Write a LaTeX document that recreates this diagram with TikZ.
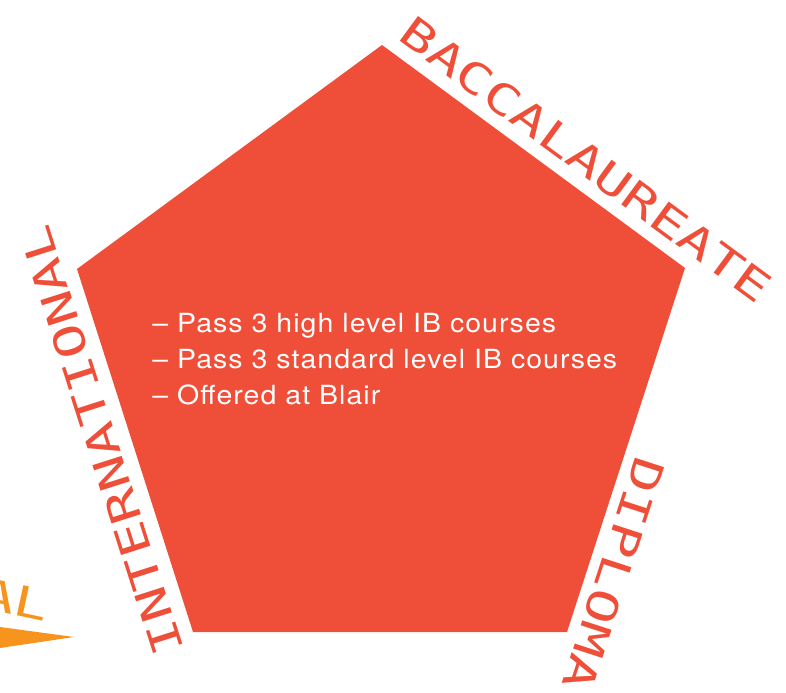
\documentclass[tikz,border=0pt]{standalone}
\usepackage{fontspec}
\newfontfamily\edgefont[FakeStretch=1.36]{DejaVu Sans Mono}
\newfontfamily\bodyfont[FakeStretch=1.08, LetterSpace=4]{TeX Gyre Heros}
\definecolor{ibred}{HTML}{EF4F39}
\definecolor{iborange}{HTML}{F7941D}
\usetikzlibrary{positioning}

\begin{document}
\begin{tikzpicture}[x=0.02cm, y=-0.02cm,
  edge label/.style={text=ibred, font=\edgefont\fontsize{24}{24}\selectfont, inner sep=0pt, anchor=base},
  main text/.style={text=white, font=\bodyfont\fontsize{15}{20.6}\selectfont, align=left, inner sep=0pt}]

\useasboundingbox (0,0) rectangle (786,692);
\clip (0,0) rectangle (786,692);

% pentagon corners
\coordinate (top) at (382,45);
\coordinate (right) at (685,268);
\coordinate (bright) at (567,632);
\coordinate (bleft) at (193,632);
\coordinate (left) at (77,269);

\fill[ibred] (top) -- (right) -- (bright) -- (bleft) -- (left) -- cycle;

\node[main text, anchor=north west] (reqs) at (152,313)
  {– Pass 3 high level IB courses\\
   – Pass 3 standard level IB courses\\
   – Offered at Blair};

% words along the sides
\node[edge label, rotate=-36.35] (bacc) at (577,172) {BACCALAUREATE};
\node[edge label, rotate=107.7] (intl) at (116,436) {INTERNATIONAL};
\node[edge label, rotate=-108] (dipl) at (599,569) {DIPLOMA};

% piece of the next shape
\fill[iborange] (0,627) -- (74,637) -- (0,648) -- cycle;
\node[edge label, text=iborange, rotate=-12, anchor=base east] (al) at (46,622) {AL};

\end{tikzpicture}
\end{document}
